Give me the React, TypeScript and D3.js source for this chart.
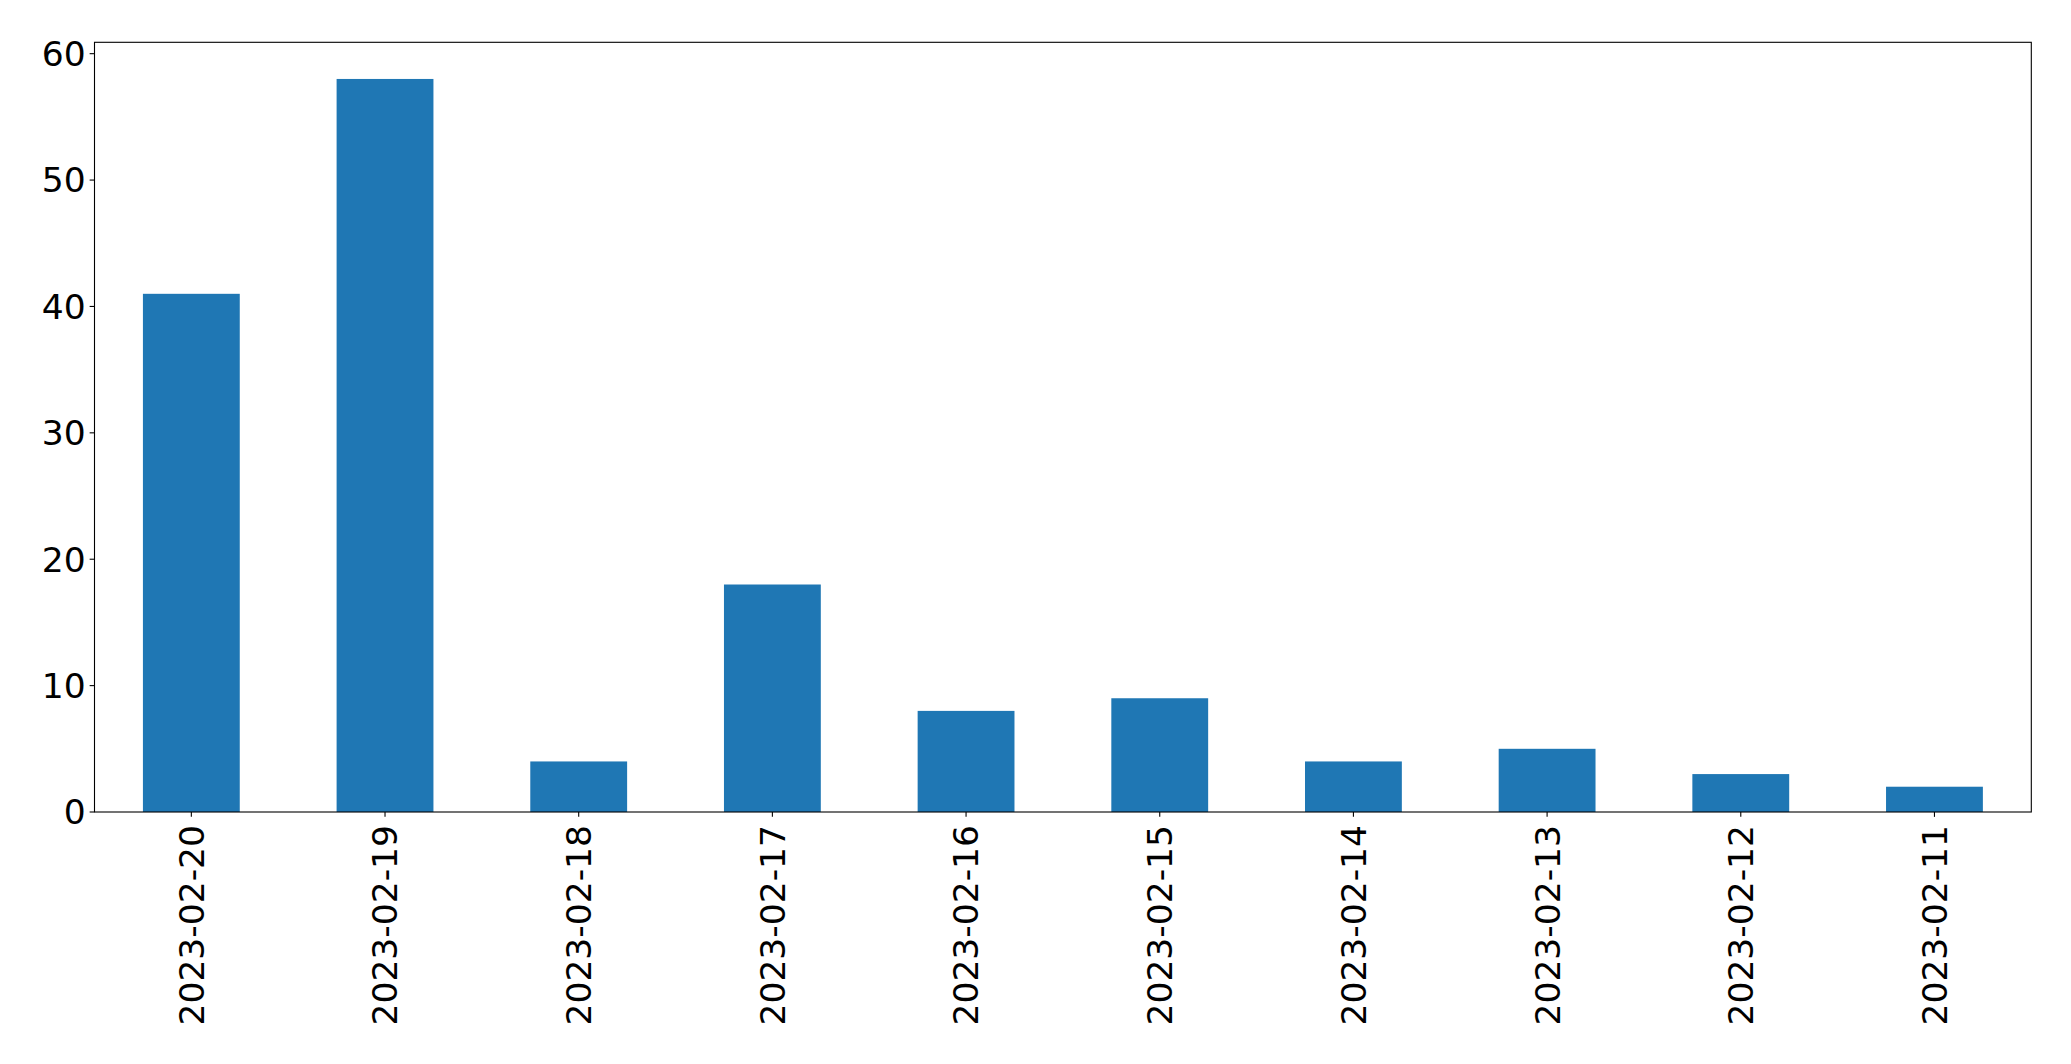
import React from "react";
import * as d3 from "d3";

const categories = ["2023-02-20","2023-02-19","2023-02-18","2023-02-17","2023-02-16","2023-02-15","2023-02-14","2023-02-13","2023-02-12","2023-02-11"];
const values = [41, 58, 4, 18, 8, 9, 4, 5, 3, 2];
const yTicks = [0, 10, 20, 30, 40, 50, 60];

const W = 2071, H = 1064;
const L = 94.5, R = 2031.3, T = 42.3, B = 812;
const FS = 34.5;
const TICK = 4.86;
const PAD = 4.86;

export default function App() {
  const x = d3.scaleBand<string>().domain(categories).range([L, R]).paddingInner(0.5).paddingOuter(0.25);
  const ymax = d3.max(values)! * 1.05;
  const y = d3.scaleLinear().domain([0, ymax]).range([B, T]);
  const font = "'DejaVu Sans', sans-serif";
  return (
    <svg width={W} height={H} style={{ position: "absolute", left: 0, top: 0, background: "#fff" }} xmlns="http://www.w3.org/2000/svg">
      <rect x={0} y={0} width={W} height={H} fill="#fff" />
      {categories.map((c, i) => (
        <rect key={c} x={x(c)} y={y(values[i])} width={x.bandwidth()} height={B - y(values[i])} fill="#1f77b4" />
      ))}
      <rect x={L} y={T} width={R - L} height={B - T} fill="none" stroke="#000" strokeWidth={1.1} />
      {yTicks.map((t) => (
        <g key={t}>
          <line x1={L - TICK} x2={L} y1={y(t)} y2={y(t)} stroke="#000" strokeWidth={1.1} />
          <text x={L - TICK - PAD + 1} y={y(t)} dy="0.36em" textAnchor="end" fontFamily={font} fontSize={FS} fill="#000">{t}</text>
        </g>
      ))}
      {categories.map((c) => {
        const cx = x(c)! + x.bandwidth() / 2;
        const ty = B + 13;
        return (
          <g key={c}>
            <line x1={cx} x2={cx} y1={B} y2={B + TICK} stroke="#000" strokeWidth={1.1} />
            <text transform={`translate(${cx},${ty}) rotate(-90)`} dy="0.36em" textAnchor="end" fontFamily={font} fontSize={FS} fill="#000">{c}</text>
          </g>
        );
      })}
    </svg>
  );
}
